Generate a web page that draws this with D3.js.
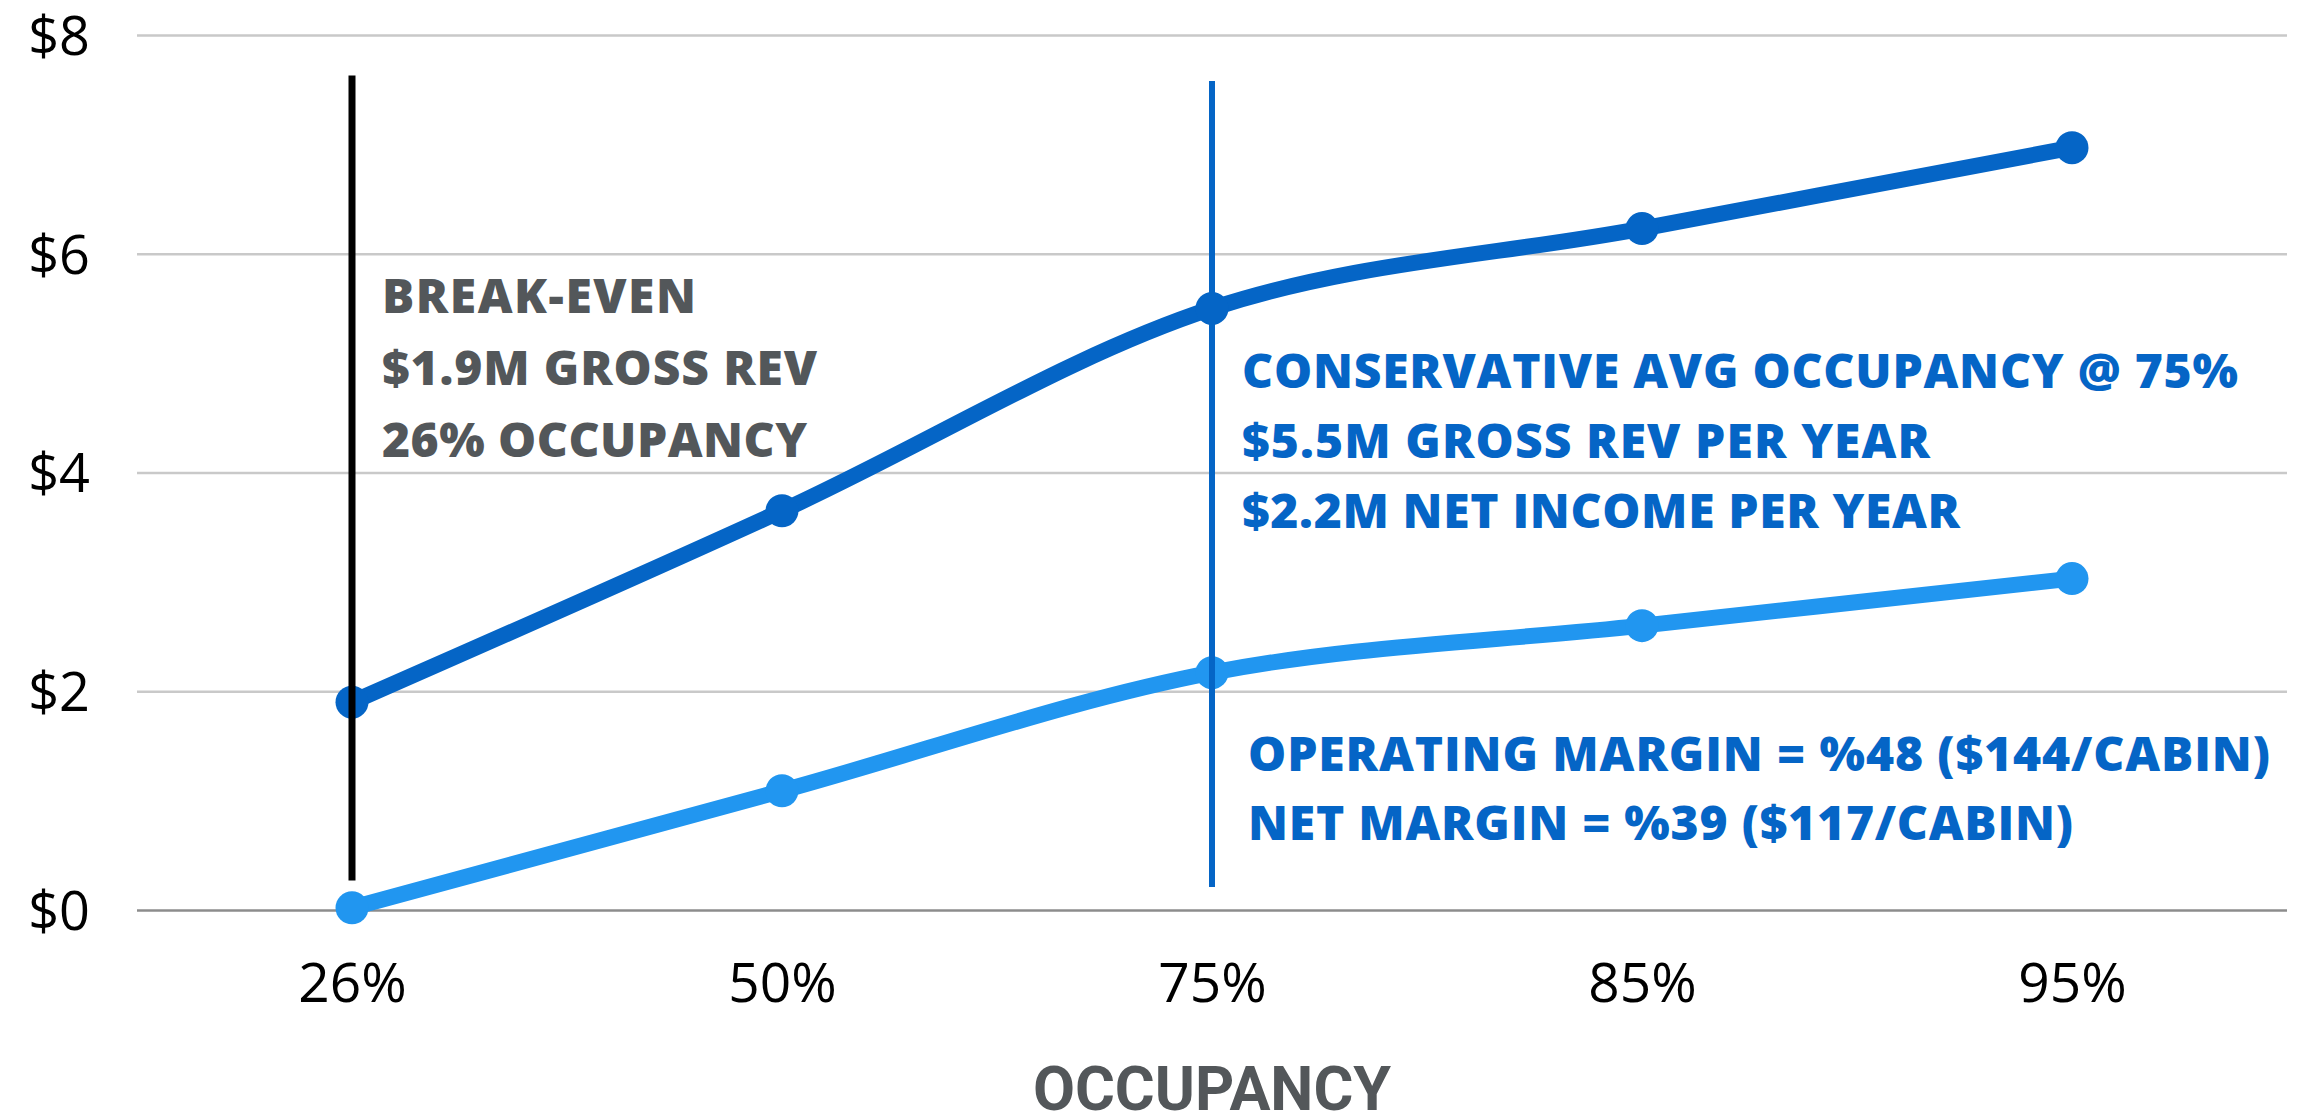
<!DOCTYPE html>
<html>
<head>
<meta charset="utf-8">
<script src="https://cdn.jsdelivr.net/npm/d3@7"></script>
<style>
  html, body { margin: 0; padding: 0; background: #fff; }
  svg { display: block; }
</style>
</head>
<body>
<div id="mainDiv"></div>
<script>
// chart values
var occupancy = ["26%", "50%", "75%", "85%", "95%"];
var grossRevenue = [1.9, 3.65, 5.5, 6.23, 6.97];
var netIncome = [0.02, 1.09, 2.17, 2.6, 3.03];
var yTicks = [0, 2, 4, 6, 8];

// marker lines: category, top value, bottom value
var breakEvenLine = ["26%", 7.63, 0.27];
var avgLine = ["75%", 7.58, 0.21];

var breakEvenText = ["BREAK-EVEN", "$1.9M GROSS REV", "26% OCCUPANCY"];
var avgText = ["CONSERVATIVE AVG OCCUPANCY @ 75%", "$5.5M GROSS REV PER YEAR", "$2.2M NET INCOME PER YEAR"];
var marginText = ["OPERATING MARGIN = %48 ($144/CABIN)", "NET MARGIN = %39 ($117/CABIN)"];

var W = 2310, H = 1117;
var plotLeft = 137, plotRight = 2287, plotTop = 35, plotBottom = 910;

var svg = d3.select("#mainDiv").append("svg")
  .attr("width", W)
  .attr("height", H)
  .attr("id", "graph");

var x = d3.scalePoint().domain(occupancy).range([plotLeft, plotRight]).padding(0.5);
var y = d3.scaleLinear().domain([0, 8]).range([plotBottom, plotTop]);

// gridlines + y labels
var yAxis = svg.append("g")
  .attr("transform", "translate(" + plotLeft + ",0)")
  .call(d3.axisLeft(y).tickValues(yTicks).tickSize(-(plotRight - plotLeft)).tickPadding(47).tickFormat(function(d){ return "$" + d; }));
yAxis.select(".domain").remove();
yAxis.selectAll(".tick line")
  .attr("stroke", function(d){ return d === 0 ? "#8c8c8c" : "#c9c9c9"; })
  .attr("stroke-width", 2.5);
yAxis.selectAll(".tick text")
  .attr("font-family", "'Open Sans', sans-serif")
  .attr("font-size", 54)
  .attr("fill", "#000")
  .attr("dy", "0.36em");

// x labels
var xAxis = svg.append("g")
  .attr("transform", "translate(0," + plotBottom + ")")
  .call(d3.axisBottom(x).tickSize(0).tickPadding(0));
xAxis.select(".domain").remove();
xAxis.selectAll(".tick text")
  .attr("font-family", "'Open Sans', sans-serif")
  .attr("font-size", 55)
  .attr("fill", "#000")
  .attr("dy", null)
  .attr("y", 92);

// axis title
svg.append("text")
  .attr("x", (plotLeft + plotRight) / 2)
  .attr("y", 1110)
  .attr("text-anchor", "middle")
  .attr("font-family", "Roboto, sans-serif")
  .attr("font-weight", 700)
  .attr("font-size", 61)
  .attr("fill", "#53575a")
  .text("OCCUPANCY");

var line = d3.line()
  .x(function(d, i){ return x(occupancy[i]); })
  .y(function(d){ return y(d); })
  .curve(d3.curveCardinal.tension(0));

function drawSeries(values, color) {
  svg.append("path")
    .datum(values)
    .attr("d", line)
    .attr("fill", "none")
    .attr("stroke", color)
    .attr("stroke-width", 16)
    .attr("stroke-linejoin", "round");
  svg.append("g").selectAll("circle")
    .data(values)
    .enter().append("circle")
    .attr("cx", function(d, i){ return x(occupancy[i]); })
    .attr("cy", function(d){ return y(d); })
    .attr("r", 16.5)
    .attr("fill", color);
}

drawSeries(netIncome, "#2196f0");
drawSeries(grossRevenue, "#0565c6");

function drawMarker(def, color, width) {
  svg.append("line")
    .attr("x1", x(def[0])).attr("x2", x(def[0]))
    .attr("y1", y(def[1])).attr("y2", y(def[2]))
    .attr("stroke", color)
    .attr("stroke-width", width);
}
drawMarker(breakEvenLine, "#000", 7);
drawMarker(avgLine, "#0565c6", 6);

// annotation blocks: lines, x, first baseline, line step, colour, target widths
function drawNote(lines, x0, y0, step, color, widths) {
  lines.forEach(function(t, i){
    var txt = svg.append("text")
      .attr("x", x0)
      .attr("y", y0 + i * step)
      .attr("font-family", "'Open Sans', sans-serif")
      .attr("font-weight", 800)
      .attr("font-size", 48)
      .attr("fill", color)
      .text(t);
    txt.attr("textLength", widths[i]).attr("lengthAdjust", "spacing");
  });
}
drawNote(breakEvenText, 382, 313, 72, "#53575a", [314, 435, 425]);
drawNote(avgText, 1242, 388, 70, "#0565c6", [996, 688, 718]);
drawNote(marginText, 1248, 771, 69, "#0565c6", [1022, 825]);
</script>
</body>
</html>
